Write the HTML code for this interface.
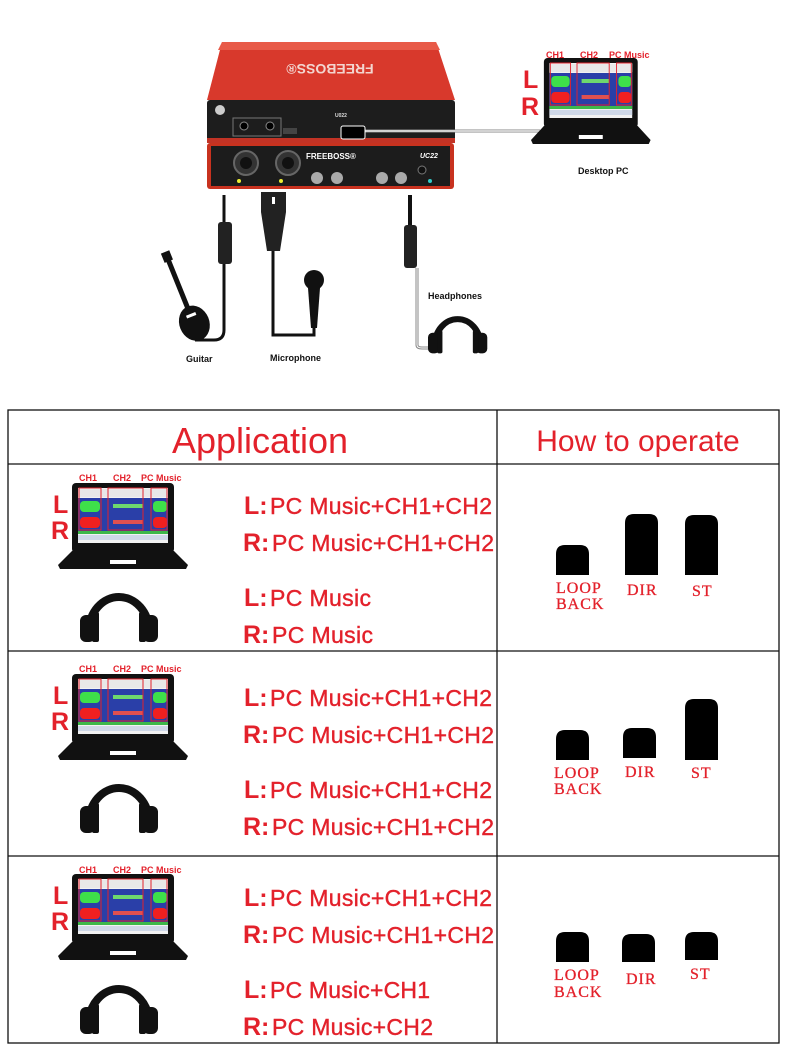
<!DOCTYPE html>
<html><head><meta charset="utf-8"><style>
html,body{margin:0;padding:0;background:#fff;}
svg{display:block;}
text{font-family:"Liberation Sans",sans-serif;}
.r{fill:#e3212b;}
.t{font-size:23px;fill:#e3212b;stroke:#e3212b;stroke-width:0.4;}
.lr{font-size:25px;font-weight:bold;fill:#e3212b;}
.sw{font-family:"Liberation Serif",serif;font-size:16px;fill:#e3212b;letter-spacing:1px;stroke:#e3212b;stroke-width:0.3;}
.sm{font-size:9px;fill:#e3212b;font-weight:bold;}
.lab{font-size:9px;font-weight:bold;fill:#111;}
</style></head><body>
<svg width="790" height="1051" viewBox="0 0 790 1051" xmlns="http://www.w3.org/2000/svg">
<defs>
<g id="lap">
  <rect x="14" y="2" width="102" height="70" rx="4" fill="#111"/>
  <polygon points="14,70 116,70 130,84 128,88 2,88 0,84" fill="#111"/>
  <rect x="52" y="79" width="26" height="4" fill="#fff"/>
  <rect x="20" y="7" width="90" height="55" fill="#f2f2f2"/>
  <rect x="20" y="8" width="90" height="8" fill="#e8e8e8"/>
  <rect x="20" y="17" width="90" height="33" fill="#2a3fa8"/>
  <rect x="20" y="50" width="90" height="3" fill="#3db84a"/>
  <rect x="20" y="54" width="90" height="5" fill="#cfd8e8"/>
  <rect x="22" y="20" width="20" height="11" rx="4" fill="#3ee04a"/>
  <rect x="95" y="20" width="14" height="11" rx="4" fill="#3ee04a"/>
  <rect x="55" y="23" width="30" height="4" fill="#6ed86e"/>
  <rect x="22" y="36" width="20" height="11" rx="4" fill="#f02020"/>
  <rect x="95" y="36" width="14" height="11" rx="4" fill="#f02020"/>
  <rect x="55" y="39" width="30" height="4" fill="#e05050"/>
  <rect x="21" y="7" width="22" height="42" fill="none" stroke="#e3212b" stroke-width="1"/>
  <rect x="50" y="7" width="35" height="42" fill="none" stroke="#e3212b" stroke-width="1"/>
  <rect x="93" y="7" width="16" height="42" fill="none" stroke="#e3212b" stroke-width="1"/>
</g>
<g id="hp">
  <path d="M9,46 A30,34 0 0 1 69,46" fill="none" stroke="#111" stroke-width="8"/>
  <rect x="0" y="30" width="15" height="27" rx="6" fill="#111"/>
  <rect x="12" y="27" width="7" height="30" rx="2" fill="#111"/>
  <rect x="63" y="30" width="15" height="27" rx="6" fill="#111"/>
  <rect x="59" y="27" width="7" height="30" rx="2" fill="#111"/>
</g>
</defs>

<!-- ===== TOP DIAGRAM ===== -->
<polygon points="222,42 436,42 455,100 207,100" fill="#d8392c"/>
<polygon points="222,42 436,42 440,50 218,50" fill="#e85a48"/>
<text x="330" y="72" text-anchor="middle" font-size="14" font-weight="bold" fill="#f3d6d0" transform="rotate(180 330 68)">FREEBOSS®</text>
<rect x="207" y="100" width="248" height="42" rx="3" fill="#1d1d1d"/>
<rect x="207" y="138" width="248" height="5" fill="#c23325"/>
<circle cx="220" cy="110" r="5" fill="#ccc"/>
<rect x="233" y="118" width="48" height="18" fill="none" stroke="#777" stroke-width="1"/>
<circle cx="244" cy="126" r="4" fill="#000" stroke="#888"/>
<circle cx="270" cy="126" r="4" fill="#000" stroke="#888"/>
<rect x="283" y="128" width="14" height="6" fill="#444"/>
<text x="335" y="117" font-size="5" font-weight="bold" fill="#ddd">U022</text>
<line x1="360" y1="131" x2="540" y2="131" stroke="#888" stroke-width="3"/>
<line x1="360" y1="131" x2="540" y2="131" stroke="#fff" stroke-width="1.2"/>
<rect x="341" y="126" width="24" height="13" rx="2" fill="#000" stroke="#fff"/>
<rect x="207" y="143" width="247" height="46" rx="3" fill="#c8321f"/>
<rect x="211" y="146" width="239" height="40" fill="#1c1c1c"/>
<circle cx="246" cy="163" r="12" fill="#333" stroke="#666" stroke-width="2"/>
<circle cx="246" cy="163" r="6" fill="#111"/>
<circle cx="288" cy="163" r="12" fill="#333" stroke="#666" stroke-width="2"/>
<circle cx="288" cy="163" r="6" fill="#111"/>
<text x="306" y="159" font-size="8" font-weight="bold" fill="#fff">FREEBOSS®</text>
<text x="420" y="158" font-size="7" font-weight="bold" fill="#fff" font-style="italic">UC22</text>
<circle cx="317" cy="178" r="6" fill="#aaa"/><circle cx="337" cy="178" r="6" fill="#aaa"/>
<circle cx="382" cy="178" r="6" fill="#aaa"/><circle cx="401" cy="178" r="6" fill="#aaa"/>
<circle cx="422" cy="170" r="4" fill="#111" stroke="#777"/>
<circle cx="239" cy="181" r="2" fill="#ee3"/><circle cx="281" cy="181" r="2" fill="#ee3"/>
<circle cx="430" cy="181" r="2" fill="#3cc"/>
<path d="M224,195 V330 Q224,340 214,340 H195" fill="none" stroke="#111" stroke-width="3"/>
<rect x="218" y="222" width="14" height="42" rx="3" fill="#222"/>
<g transform="rotate(-22 185 300)">
<rect x="182" y="255" width="5" height="55" fill="#111"/>
<rect x="180" y="248" width="9" height="10" fill="#111"/>
<ellipse cx="185" cy="325" rx="15" ry="18" fill="#111"/>
<rect x="180" y="315" width="10" height="3" fill="#fff"/>
</g>
<text x="186" y="362" class="lab">Guitar</text>
<rect x="261" y="192" width="25" height="20" fill="#222"/>
<rect x="272" y="197" width="3" height="7" fill="#fff"/>
<polygon points="261,212 286,212 280,251 267,251" fill="#222"/>
<path d="M273,251 V335 H314 V325" fill="none" stroke="#111" stroke-width="3"/>
<circle cx="314" cy="280" r="10" fill="#111"/>
<polygon points="308,288 320,288 317,328 311,328" fill="#111"/>
<text x="270" y="361" class="lab">Microphone</text>
<rect x="408" y="195" width="4" height="35" fill="#111"/>
<rect x="404" y="225" width="13" height="43" rx="3" fill="#222"/>
<path d="M417,268 V345 Q417,348 422,348 H432" fill="none" stroke="#888" stroke-width="3"/>
<path d="M417,268 V345 Q417,348 422,348 H432" fill="none" stroke="#fff" stroke-width="1"/>
<text x="428" y="299" class="lab">Headphones</text>
<use href="#hp" transform="translate(428,310) scale(0.76)"/>
<use href="#lap" transform="translate(531,56) scale(0.92,1)"/>
<text x="546" y="58" class="sm">CH1</text>
<text x="580" y="58" class="sm">CH2</text>
<text x="609" y="58" class="sm">PC Music</text>
<text x="523" y="88" class="lr" font-size="24">L</text>
<text x="521" y="115" class="lr" font-size="24">R</text>
<text x="578" y="174" class="lab">Desktop PC</text>

<!-- ===== TABLE ===== -->
<g fill="none" stroke="#111" stroke-width="1.3">
<rect x="8" y="410" width="771" height="633"/>
<line x1="497" y1="410" x2="497" y2="1043"/>
<line x1="8" y1="464" x2="779" y2="464"/>
<line x1="8" y1="651" x2="779" y2="651"/>
<line x1="8" y1="856" x2="779" y2="856"/>
</g>
<text x="260" y="453" text-anchor="middle" font-size="36" class="r">Application</text>
<text x="638" y="451" text-anchor="middle" font-size="30" class="r">How to operate</text>

<!-- row 1 -->
<use href="#lap" transform="translate(58,481)"/>
<text x="79" y="481" class="sm">CH1</text><text x="113" y="481" class="sm">CH2</text><text x="141" y="481" class="sm">PC Music</text>
<text x="53" y="513" class="lr">L</text><text x="51" y="539" class="lr">R</text>
<use href="#hp" transform="translate(80,585)"/>
<text x="244" y="514" class="lr">L:</text><text x="270" y="514" class="t" textLength="222">PC Music+CH1+CH2</text>
<text x="243" y="551" class="lr">R:</text><text x="272" y="551" class="t" textLength="222">PC Music+CH1+CH2</text>
<text x="244" y="606" class="lr">L:</text><text x="270" y="606" class="t" textLength="101">PC Music</text>
<text x="243" y="643" class="lr">R:</text><text x="272" y="643" class="t" textLength="101">PC Music</text>
<path d="M556,575 V554 Q556,545 565,545 H580 Q589,545 589,554 V575Z" fill="#000"/>
<path d="M625,575 V523 Q625,514 634,514 H649 Q658,514 658,523 V575Z" fill="#000"/>
<path d="M685,575 V524 Q685,515 694,515 H709 Q718,515 718,524 V575Z" fill="#000"/>
<text x="556" y="593" class="sw">LOOP</text><text x="556" y="609" class="sw">BACK</text>
<text x="627" y="595" class="sw">DIR</text><text x="692" y="596" class="sw">ST</text>

<!-- row 2 -->
<use href="#lap" transform="translate(58,672)"/>
<text x="79" y="672" class="sm">CH1</text><text x="113" y="672" class="sm">CH2</text><text x="141" y="672" class="sm">PC Music</text>
<text x="53" y="704" class="lr">L</text><text x="51" y="730" class="lr">R</text>
<use href="#hp" transform="translate(80,776)"/>
<text x="244" y="706" class="lr">L:</text><text x="270" y="706" class="t" textLength="222">PC Music+CH1+CH2</text>
<text x="243" y="743" class="lr">R:</text><text x="272" y="743" class="t" textLength="222">PC Music+CH1+CH2</text>
<text x="244" y="798" class="lr">L:</text><text x="270" y="798" class="t" textLength="222">PC Music+CH1+CH2</text>
<text x="243" y="835" class="lr">R:</text><text x="272" y="835" class="t" textLength="222">PC Music+CH1+CH2</text>
<path d="M556,760 V739 Q556,730 565,730 H580 Q589,730 589,739 V760Z" fill="#000"/>
<path d="M623,758 V737 Q623,728 632,728 H647 Q656,728 656,737 V758Z" fill="#000"/>
<path d="M685,760 V708 Q685,699 694,699 H709 Q718,699 718,708 V760Z" fill="#000"/>
<text x="554" y="778" class="sw">LOOP</text><text x="554" y="794" class="sw">BACK</text>
<text x="625" y="777" class="sw">DIR</text><text x="691" y="778" class="sw">ST</text>

<!-- row 3 -->
<use href="#lap" transform="translate(58,872)"/>
<text x="79" y="873" class="sm">CH1</text><text x="113" y="873" class="sm">CH2</text><text x="141" y="873" class="sm">PC Music</text>
<text x="53" y="904" class="lr">L</text><text x="51" y="930" class="lr">R</text>
<use href="#hp" transform="translate(80,977)"/>
<text x="244" y="906" class="lr">L:</text><text x="270" y="906" class="t" textLength="222">PC Music+CH1+CH2</text>
<text x="243" y="943" class="lr">R:</text><text x="272" y="943" class="t" textLength="222">PC Music+CH1+CH2</text>
<text x="244" y="998" class="lr">L:</text><text x="270" y="998" class="t" textLength="160">PC Music+CH1</text>
<text x="243" y="1035" class="lr">R:</text><text x="272" y="1035" class="t" textLength="161">PC Music+CH2</text>
<path d="M556,962 V941 Q556,932 565,932 H580 Q589,932 589,941 V962Z" fill="#000"/>
<path d="M622,962 V943 Q622,934 631,934 H646 Q655,934 655,943 V962Z" fill="#000"/>
<path d="M685,960 V941 Q685,932 694,932 H709 Q718,932 718,941 V960Z" fill="#000"/>
<text x="554" y="980" class="sw">LOOP</text><text x="554" y="997" class="sw">BACK</text>
<text x="626" y="984" class="sw">DIR</text><text x="690" y="979" class="sw">ST</text>
</svg>
</body></html>
